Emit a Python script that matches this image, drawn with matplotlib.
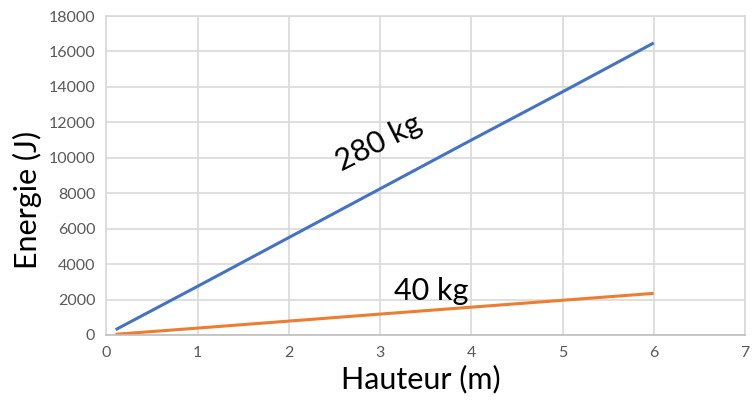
import matplotlib.pyplot as plt

# valeurs
hauteur = [0.1, 1, 2, 3, 4, 5, 6]
energie_280 = [300, 2750, 5500, 8250, 11000, 13720, 16480]
energie_40 = [40, 390, 785, 1180, 1570, 1960, 2350]

xticks = [0, 1, 2, 3, 4, 5, 6, 7]
yticks = [0, 2000, 4000, 6000, 8000, 10000, 12000, 14000, 16000, 18000]

plt.rcParams['font.family'] = ['Lato', 'DejaVu Sans']

fig = plt.figure(figsize=(7.52, 4.0), dpi=100)
ax = fig.add_axes([0.1416, 0.1625, 0.849, 0.7975])

ax.plot(hauteur, energie_280, color='#4472C4', linewidth=2.2, solid_capstyle='butt')
ax.plot(hauteur, energie_40, color='#ED7D31', linewidth=2.2, solid_capstyle='butt')

ax.set_xlim(0, 7)
ax.set_ylim(0, 18000)
ax.set_xticks(xticks)
ax.set_yticks(yticks)
ax.grid(True, color='#d9d9d9', linewidth=1.2)
ax.set_axisbelow(True)
for s in ax.spines.values():
    s.set_color('#d9d9d9')
    s.set_linewidth(1.2)
ax.spines['bottom'].set_color('#bfbfbf')
ax.tick_params(length=0, labelsize=11.5, colors='#595959', pad=8)

ax.text(2.98, 10850, '280 kg', rotation=27, fontsize=22, ha='center', va='center')
ax.text(3.56, 2480, '40 kg', fontsize=22, ha='center', va='center')

fig.text(0.037, 0.5, 'Energie (J)', rotation=90, fontsize=22, ha='center', va='center')
fig.text(0.56, 0.052, 'Hauteur (m)', fontsize=22, ha='center', va='center')

fig.savefig('out.png', dpi=100)
